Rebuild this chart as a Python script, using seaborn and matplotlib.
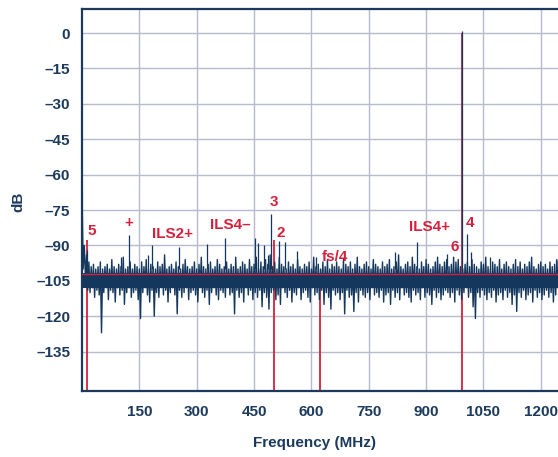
import numpy as np
import pandas as pd
import matplotlib
matplotlib.use("Agg")
import matplotlib.pyplot as plt
import seaborn as sns

# ---------------- data ----------------
# noise floor: upper / lower excursions per ~6 MHz bin
noise_hi = [
    -65, -90, -94, -97, -99, -98, -100, -99, -97, -100, -99, -98, -100, -96, -99, -100,
    -98, -99, -95, -100, -99, -97, -100, -98, -99, -100, -97, -99, -96, -100, -98, -99,
    -100, -97, -99, -98, -94, -100, -99, -98, -100, -97, -99, -100, -98, -96, -99, -100,
    -99, -97, -100, -98, -95, -99, -100, -98, -97, -100, -99, -96, -98, -100, -99, -97,
    -100, -98, -99, -95, -100, -99, -97, -98, -100, -96, -99, -98, -95, -100, -97, -99,
    -96, -98, -94, -99, -97, -100, -95, -98, -99, -100, -97, -99, -98, -100, -96, -99,
    -100, -98, -99, -97, -100, -95, -99, -98, -100, -97, -99, -96, -100, -98, -99, -97,
    -99, -100, -96, -98, -99, -97, -100, -98, -95, -99, -100, -98, -97, -99, -100, -96,
    -98, -99, -100, -97, -99, -98, -96, -100, -99, -97, -94, -99, -100, -98, -97, -99,
    -95, -98, -99, -100, -97, -99, -96, -98, -100, -99, -97, -95, -98, -99, -97, -96,
    -99, -98, -95, -97, -96, -99, -100, -98, -97, -99, -96, -98, -99, -100, -97, -98,
    -95, -99, -100, -97, -98, -99, -96, -100, -98, -97, -99, -100, -98, -96, -99, -97,
    -100, -98, -99, -97, -95, -99, -100, -98, -97, -99, -98, -100, -97, -99, -98, -96,
]
noise_lo = [
    -100, -104, -109, -110, -108, -112, -109, -111, -127, -110, -108, -113, -109, -110, -114, -108,
    -111, -109, -115, -110, -108, -112, -110, -109, -113, -121, -110, -108, -111, -114, -109, -120,
    -110, -112, -108, -111, -109, -114, -110, -108, -111, -119, -109, -112, -110, -108, -113, -110,
    -109, -111, -114, -108, -110, -112, -109, -115, -110, -108, -111, -113, -109, -110, -112, -108,
    -111, -110, -119, -109, -112, -110, -114, -108, -111, -109, -113, -110, -112, -109, -116, -110,
    -112, -117, -110, -109, -113, -111, -115, -108, -110, -112, -109, -114, -110, -111, -108, -113,
    -110, -109, -112, -114, -108, -111, -110, -113, -109, -115, -110, -112, -117, -109, -111, -110,
    -113, -110, -119, -109, -112, -111, -118, -110, -114, -109, -111, -112, -110, -113, -108, -111,
    -110, -112, -109, -114, -111, -110, -115, -109, -112, -110, -113, -108, -111, -110, -112, -114,
    -109, -111, -110, -113, -108, -112, -110, -111, -115, -109, -112, -110, -113, -111, -109, -110,
    -112, -110, -114, -109, -111, -113, -110, -108, -112, -110, -116, -121, -110, -112, -109, -111,
    -113, -110, -112, -109, -114, -111, -110, -113, -109, -112, -110, -115, -111, -118, -110, -112,
    -109, -113, -111, -110, -114, -109, -112, -110, -113, -111, -109, -112, -110, -114, -111, -108,
]
core_top, core_bottom = -101.5, -108.0   # solid, densely packed part of the noise floor
f_max = 1245  # MHz, right edge of the displayed span

# discrete spurs (MHz, dB)
spur_freq = [13, 103, 124, 172, 184, 255, 327, 375, 453, 461, 476, 487, 494, 515, 532,
             563, 613, 818, 876, 955, 995, 1006, 1018, 1066, 1240]
spur_db = [-92, -94.8, -85.4, -94, -89.7, -90.7, -89.4, -86.8, -87, -89, -90, -94, -76.5,
           -88, -88.7, -92.5, -95, -93, -88.5, -93.6, 0.8, -85.3, -93, -95, -96]

# red harmonic markers (MHz, top dB)
marker_freq = [13, 502, 622, 995]
marker_top = [-87.5, -87.5, -102, 0.0]
ref_level = -102.2

# annotations: text, freq (left edge), dB (center)
ann_text = ["5", "+", "ILS2+", "ILS4–", "3", "2", "fs/4", "ILS4+", "6", "4"]
ann_freq = [14, 112, 183, 334, 491, 508, 627, 854, 963, 1003]
ann_db = [-84, -80.5, -85, -81.2, -71.4, -84.8, -94.8, -82.2, -90.8, -80.5]

xticks = [150, 300, 450, 600, 750, 900, 1050, 1200]
yticks = [0, -15, -30, -45, -60, -75, -90, -105, -120, -135]

# ---------------- styling ----------------
NAVY = "#14375e"
TXT = "#1b3a5c"
RED = "#d4213d"
GRID = "#b7bbcc"

sns.set_style("white")
plt.rcParams["font.family"] = ["Liberation Sans", "DejaVu Sans"]
plt.rcParams["font.weight"] = "bold"

fig = plt.figure(figsize=(5.58, 4.57), dpi=100)
ax = fig.add_axes([82 / 558, 1 - 391 / 457, 1 - 82 / 558, (391 - 9) / 457])

n = len(noise_hi) * 2
freqs = np.linspace(0, f_max, n)
vals = np.ravel(np.column_stack([noise_hi, noise_lo]))
df = pd.DataFrame({"Frequency": freqs, "dB": vals})

ymin, ymax = -151.7, 10.2

# red markers (behind the noise)
ax.vlines(marker_freq, ymin, marker_top, colors=RED, linewidth=1.3, zorder=1)

sns.lineplot(data=df, x="Frequency", y="dB", ax=ax, color=NAVY, linewidth=1.0,
             estimator=None, sort=False, zorder=3)
ax.fill_between([freqs[1], f_max], core_top, core_bottom, color=NAVY,
                linewidth=0, zorder=3)

ax.vlines(spur_freq, -100, spur_db, colors=NAVY, linewidth=0.9, zorder=3)

ax.axhline(ref_level, color=RED, linewidth=1.0, zorder=4)

for t, fx, dy in zip(ann_text, ann_freq, ann_db):
    ax.text(fx, dy, t, color=RED, fontsize=11, fontweight="bold",
            ha="left", va="center", zorder=5)

ax.set_xlim(0, f_max)
ax.set_ylim(ymin, ymax)
ax.set_xticks(xticks)
ax.set_xticklabels([str(v) for v in xticks])
ax.set_yticks(yticks)
ax.set_yticklabels([str(v).replace("-", "–") for v in yticks])
ax.tick_params(axis="both", length=0, labelsize=11, labelcolor=TXT)
ax.tick_params(axis="y", pad=8.5)
ax.tick_params(axis="x", pad=10)
for lab in ax.get_xticklabels() + ax.get_yticklabels():
    lab.set_fontweight("bold")

ax.grid(True, color=GRID, linewidth=1.0, zorder=0)
ax.set_axisbelow(True)

for side in ["left", "top", "bottom"]:
    ax.spines[side].set_color(TXT)
    ax.spines[side].set_linewidth(1.6)
    ax.spines[side].set_visible(True)
ax.spines["right"].set_visible(False)

ax.set_xlabel("Frequency (MHz)", fontsize=11, fontweight="bold", color=TXT)
ax.set_ylabel("dB", fontsize=11, fontweight="bold", color=TXT)
ax.xaxis.set_label_coords(0.489, -0.135)
ax.xaxis.label.set_va("center")
ax.yaxis.set_label_coords(-0.134, 0.495)
ax.yaxis.label.set_va("center")

fig.savefig("out.png", dpi=100)
